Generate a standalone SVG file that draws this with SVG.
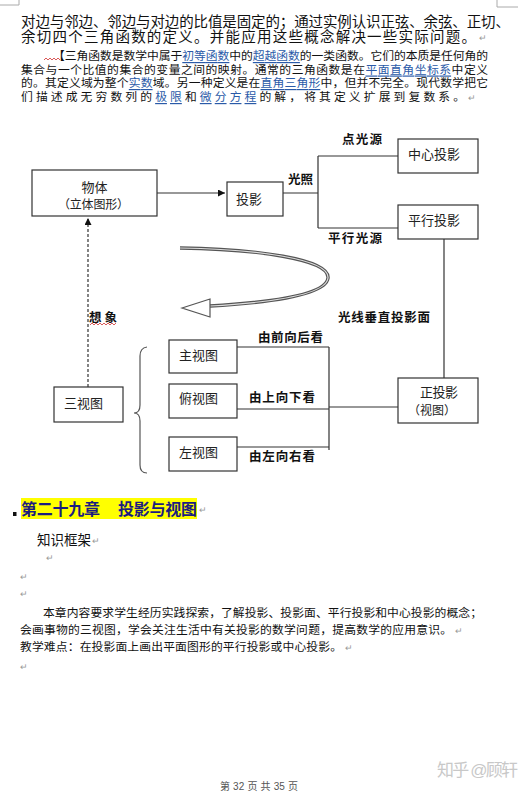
<svg xmlns="http://www.w3.org/2000/svg" width="532" height="792" viewBox="0 0 532 792">
<defs>
<style>
text{font-family:"Liberation Sans","Noto Sans CJK SC",sans-serif;dominant-baseline:central}
.t15{font-size:14.5px;fill:#111}
.t12{font-size:11.8px;fill:#111}
.lk{fill:#2a5aa8;text-decoration:underline}
.box{fill:#fff;stroke:#333;stroke-width:1.2}
.ln{fill:none;stroke:#333;stroke-width:1.2}
.nd{font-size:13px;fill:#222}
.lb{font-size:12.5px;font-weight:700;fill:#111}
.pm{font-size:9px;fill:#999}
.wv{fill:none;stroke:#d03030;stroke-width:0.8}
</style>
<marker id="ah" viewBox="0 0 10 10" refX="10" refY="5" markerWidth="8" markerHeight="7" orient="auto" markerUnits="userSpaceOnUse"><path d="M0,0 L10,5 L0,10 z" fill="#111"/></marker>
</defs>
<rect width="532" height="792" fill="#fff"/>
<path d="M0,5 H19 V0 M497,0 V7 H518" fill="none" stroke="#aaa" stroke-width="1"/>

<g id="intro">
<text class="t15" x="21" y="22" textLength="489" lengthAdjust="spacing">对边与邻边、邻边与对边的比值是固定的；通过实例认识正弦、余弦、正切、</text>
<text class="t15" x="21" y="37" textLength="455" lengthAdjust="spacing">余切四个三角函数的定义。并能应用这些概念解决一些实际问题。</text>
<text class="pm" x="479" y="38">↵</text>
<text class="t12" x="53" y="56" textLength="435" lengthAdjust="spacing">【三角函数是数学中属于<tspan class="lk">初等函数</tspan>中的<tspan class="lk">超越函数</tspan>的一类函数。它们的本质是任何角的</text>
<path class="wv" d="M44,60 l2,-2 l2,2 l2,-2 l2,2 l2,-2 l2,2 l2,-2 l2,2"/>
<text class="t12" x="21" y="69.5" textLength="467" lengthAdjust="spacing">集合与一个比值的集合的变量之间的映射。通常的三角函数是在<tspan class="lk">平面直角坐标系</tspan>中定义</text>
<text class="t12" x="21" y="83" textLength="467" lengthAdjust="spacing">的。其定义域为整个<tspan class="lk">实数</tspan>域。另一种定义是在<tspan class="lk">直角三角形</tspan>中，但并不完全。现代数学把它</text>
<text class="t12" x="21" y="97" textLength="444" lengthAdjust="spacing">们描述成无穷数列的<tspan class="lk">极限</tspan>和<tspan class="lk">微分方程</tspan>的解，将其定义扩展到复数系。</text>
<text class="pm" x="468" y="98">↵</text>
</g>

<g id="connectors">
<path class="ln" d="M157,193 H225" marker-end="url(#ah)"/>
<path class="ln" d="M283,193 H318 M318,156 V228 M318,156 H398 M318,228 H398"/>
<path class="ln" d="M444,239 V378"/>
<path class="ln" d="M237,347 H329 M237,409 H329 M237,447 H329 M329,347 V450 M329,407 H398"/>
<path class="ln" d="M88,387 V218" stroke-dasharray="3,2" marker-end="url(#ah)"/>
<path d="M147,347 Q140,348 140,356 V405 Q140,413 134,413 Q140,413 140,421 V465 Q140,473 147,473" fill="none" stroke="#555" stroke-width="1.2"/>
<g id="curved-arrow">
<path d="M180,248 C255,249 330,259 328,278 C326,296 262,303 210,306" fill="none" stroke="#555" stroke-width="3.4"/>
<path d="M180,248 C255,249 330,259 328,278 C326,296 262,303 210,306" fill="none" stroke="#ddd" stroke-width="1.2"/>
<path d="M182,308 L210,299 L210,317 Z" fill="#fff" stroke="#555" stroke-width="1.2" stroke-linejoin="miter"/>
</g>
</g>

<g id="node-wuti"><rect class="box" x="32" y="170" width="125" height="46"/><text class="nd" x="94.5" y="187" text-anchor="middle">物体</text><text x="58" y="205" font-size="12" fill="#222" textLength="71" lengthAdjust="spacing">（立体图形）</text></g>
<g id="node-touying"><rect class="box" x="227" y="182" width="56" height="34"/><text class="nd" x="236" y="199">投影</text></g>
<g id="node-zhongxin"><rect class="box" x="398" y="139" width="80" height="34"/><text class="nd" x="408" y="154" textLength="52" lengthAdjust="spacing">中心投影</text></g>
<g id="node-pingxing"><rect class="box" x="398" y="205" width="80" height="34"/><text class="nd" x="408" y="220" textLength="52" lengthAdjust="spacing">平行投影</text></g>
<g id="node-zheng"><rect class="box" x="398" y="378" width="80" height="45"/><text class="nd" x="420" y="392" textLength="38" lengthAdjust="spacing">正投影</text><text x="408" y="411" font-size="12" fill="#222">（视图）</text></g>
<g id="node-sanshitu"><rect class="box" x="54" y="387" width="69" height="35"/><text class="nd" x="64" y="403">三视图</text></g>
<g id="node-zhu"><rect class="box" x="169" y="340" width="68" height="33"/><text class="nd" x="179" y="355">主视图</text></g>
<g id="node-fu"><rect class="box" x="169" y="384" width="68" height="34"/><text class="nd" x="179" y="398">俯视图</text></g>
<g id="node-zuo"><rect class="box" x="169" y="437" width="68" height="34"/><text class="nd" x="179" y="452">左视图</text></g>

<g id="labels">
<text class="lb" x="342" y="140" textLength="40" lengthAdjust="spacing">点光源</text>
<text class="lb" x="288" y="180" textLength="25" lengthAdjust="spacing">光照</text>
<text class="lb" x="328" y="239" textLength="54" lengthAdjust="spacing">平行光源</text>
<text class="lb" x="338" y="318" textLength="92" lengthAdjust="spacing">光线垂直投影面</text>
<text class="lb" x="89" y="318" textLength="28" lengthAdjust="spacing">想象</text>
<path class="wv" d="M90,325 l2,-2 l2,2 l2,-2 l2,2 l2,-2 l2,2 l2,-2 l2,2 l2,-2 l2,2 l2,-2 l2,2 l2,-2"/>
<text class="lb" x="258" y="338" textLength="65" lengthAdjust="spacing">由前向后看</text>
<text class="lb" x="249" y="398" textLength="66" lengthAdjust="spacing">由上向下看</text>
<text class="lb" x="249" y="457" textLength="66" lengthAdjust="spacing">由左向右看</text>
</g>

<g id="chapter">
<rect x="13" y="512" width="3.5" height="4" fill="#111"/>
<rect x="21" y="498" width="176" height="21" fill="#ffff00"/>
<text x="21" y="509" font-size="16" font-weight="700" fill="#1c1c80" textLength="79" lengthAdjust="spacing">第二十九章</text>
<text x="118" y="509" font-size="16" font-weight="700" fill="#1c1c80" textLength="79" lengthAdjust="spacing">投影与视图</text>
<text class="pm" x="199" y="510">↵</text>
<text x="37" y="540" font-size="13.5" fill="#111" textLength="54" lengthAdjust="spacing">知识框架</text>
<text class="pm" x="92" y="541">↵</text>
<text class="pm" x="46" y="558">↵</text>
<text class="pm" x="20" y="577">↵</text>
<text class="pm" x="20" y="594">↵</text>
<text class="t12" x="43" y="613" textLength="439" lengthAdjust="spacing">本章内容要求学生经历实践探索，了解投影、投影面、平行投影和中心投影的概念；</text>
<text class="t12" x="20" y="630" textLength="432" lengthAdjust="spacing">会画事物的三视图，学会关注生活中有关投影的数学问题，提高数学的应用意识。</text>
<text class="pm" x="455" y="631">↵</text>
<text class="t12" x="20" y="647" textLength="322" lengthAdjust="spacing">教学难点：在投影面上画出平面图形的平行投影或中心投影。</text>
<text class="pm" x="345" y="648">↵</text>
<text class="pm" x="20" y="667">↵</text>
</g>

<g id="footer">
<text x="220" y="786" font-size="10" fill="#555" textLength="78" lengthAdjust="spacing">第 32 页 共 35 页</text>
<text x="437" y="770" font-size="17" fill="#c8c8c8" textLength="81" lengthAdjust="spacing">知乎 @顾轩</text>
</g>
</svg>
